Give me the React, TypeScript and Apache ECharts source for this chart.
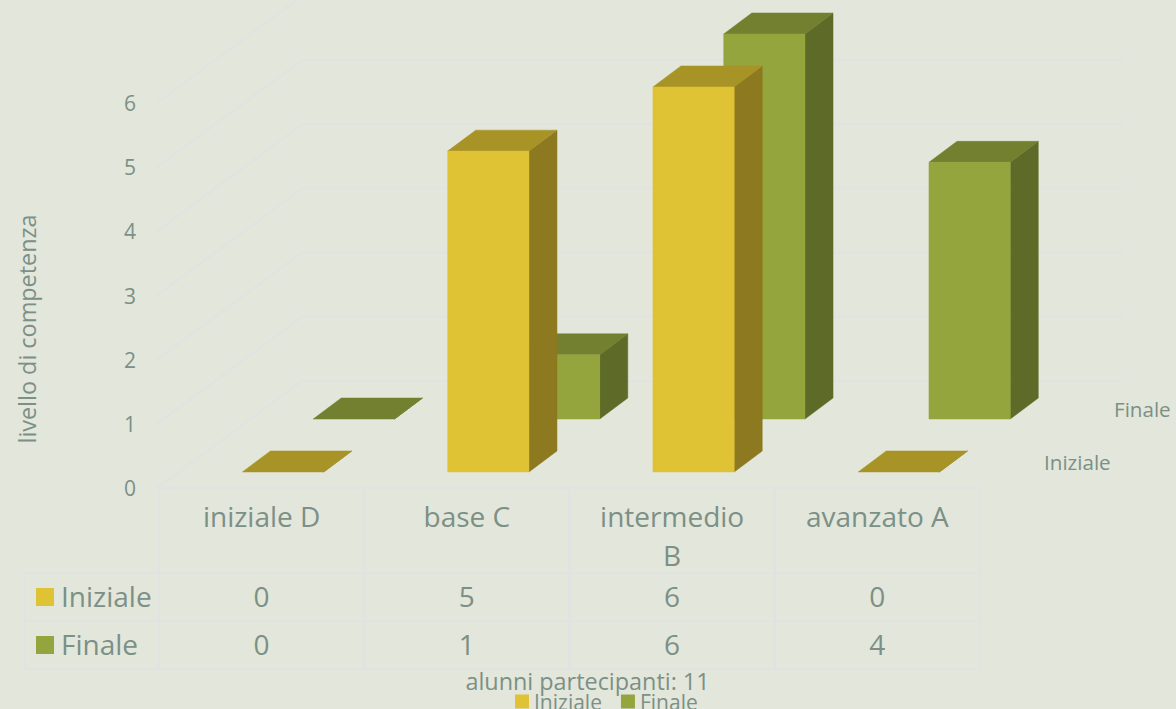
import React, { useEffect, useRef } from "react";
import * as echarts from "echarts";

const categories = ["iniziale D", "base C", "intermedio B", "avanzato A"];
const inizialeValues = [0, 5, 6, 0];
const finaleValues = [0, 1, 6, 4];
const yTicks = [0, 1, 2, 3, 4, 5, 6];

const BG = "#E3E6DA";
const TEXT = "#7B9087";
const LINE = "#DFE3E1";
const FONT = "'Open Sans', sans-serif";
const YELLOW = { front: "#DFC334", top: "#A89327", side: "#8C7920" };
const GREEN = { front: "#95A53D", top: "#72802F", side: "#5E6A27" };

// oblique projection of the chart's depth axis, in pixels
const DEPTH_X = 143;
const DEPTH_Y = 107;
const BAR_DEPTH = 0.196;

function barRenderer(colors: typeof YELLOW, depth: number) {
  return (_p: any, api: any) => {
    const [cx, vy] = api.coord([api.value(0), api.value(1)]);
    const [, by] = api.coord([api.value(0), 0]);
    const band = api.size([1, 0])[0];
    const w = band * 0.396;
    const x0 = cx - w / 2 + depth * DEPTH_X;
    const x1 = x0 + w;
    const top = vy - depth * DEPTH_Y;
    const base = by - depth * DEPTH_Y;
    const dx = BAR_DEPTH * DEPTH_X;
    const dy = BAR_DEPTH * DEPTH_Y;
    const poly = (points: number[][], fill: string) => ({
      type: "polygon",
      shape: { points },
      style: { fill, stroke: fill, lineWidth: 0.5 },
    });
    return {
      type: "group",
      children: [
        poly([[x1, base], [x1 + dx, base - dy], [x1 + dx, top - dy], [x1, top]], colors.side),
        poly([[x0, top], [x1, top], [x1 + dx, top - dy], [x0 + dx, top - dy]], colors.top),
        ...(base - top > 0.5
          ? [poly([[x0, top], [x1, top], [x1, base], [x0, base]], colors.front)]
          : []),
      ],
    };
  };
}

function wallRenderer(_p: any, api: any) {
  const [cx, y] = api.coord([0, api.value(0)]);
  const band = api.size([1, 0])[0];
  const left = cx - band / 2;
  return {
    type: "polyline",
    shape: {
      points: [
        [left - 2, y],
        [left + DEPTH_X, y - DEPTH_Y],
        [left + band * categories.length + DEPTH_X, y - DEPTH_Y],
      ],
    },
    style: { stroke: LINE, lineWidth: 2, fill: "none" },
  };
}

const ROW_TOP = 573;
const ROW_1 = 621;
const ROW_2 = 669;

function tableRenderer(_p: any, api: any) {
  const i = api.value(0);
  const [cx, y0] = api.coord([i, 0]);
  const band = api.size([1, 0])[0];
  const line = (x1: number, y1: number, x2: number, y2: number) => ({
    type: "line",
    shape: { x1, y1, x2, y2 },
    style: { stroke: LINE, lineWidth: 2 },
  });
  const txt = (text: number, y: number) => ({
    type: "text",
    style: {
      text: String(text),
      x: cx,
      y,
      align: "center",
      verticalAlign: "middle",
      fill: TEXT,
      fontSize: 28,
      fontFamily: FONT,
    },
  });
  const l = cx - band / 2;
  const r = cx + band / 2;
  return {
    type: "group",
    children: [
      line(l, y0, r, y0),
      line(l, ROW_TOP, r, ROW_TOP),
      line(l, ROW_1, r, ROW_1),
      line(l, ROW_2, r, ROW_2),
      line(l, y0, l, ROW_2),
      line(r, y0, r, ROW_2),
      txt(inizialeValues[i], 596),
      txt(finaleValues[i], 644),
    ],
  };
}

export default function App() {
  const ref = useRef<HTMLDivElement>(null);
  useEffect(() => {
    const chart = echarts.init(ref.current!, null, { renderer: "svg" });
    const labelStyle = { fill: TEXT, fontFamily: FONT };
    chart.setOption({
      animation: false,
      backgroundColor: BG,
      textStyle: { fontFamily: FONT, color: TEXT },
      title: {
        text: "alunni partecipanti: 11",
        left: 582.5,
        top: 664,
        textAlign: "center",
        textStyle: { color: TEXT, fontSize: 23.4, fontWeight: "normal", fontFamily: FONT },
      },
      legend: {
        data: ["Iniziale", "Finale"],
        left: 510,
        top: 686,
        itemWidth: 14,
        itemHeight: 14,
        itemGap: 19,
        icon: "rect",
        textStyle: { color: TEXT, fontSize: 21, fontFamily: FONT },
      },
      grid: { left: 159, right: 196, top: 103, bottom: 221 },
      xAxis: {
        type: "category",
        data: categories,
        axisLine: { show: false },
        axisTick: { show: false },
        splitLine: { show: false },
        axisLabel: {
          color: TEXT,
          fontSize: 28,
          fontFamily: FONT,
          lineHeight: 39,
          margin: 8,
          interval: 0,
          formatter: (v: string) => v.replace(" B", "\nB"),
        },
      },
      yAxis: {
        type: "value",
        min: 0,
        max: 6,
        interval: 1,
        axisLine: { show: false },
        axisTick: { show: false },
        splitLine: { show: false },
        axisLabel: { color: TEXT, fontSize: 21, fontFamily: FONT, margin: 23 },
      },
      graphic: [
        {
          type: "text",
          x: 27,
          y: 329,
          rotation: Math.PI / 2,
          style: {
            ...labelStyle,
            text: "livello di competenza",
            fontSize: 23.4,
            align: "center",
            verticalAlign: "middle",
          },
        },
        {
          type: "text",
          x: 1114,
          y: 409,
          style: { ...labelStyle, text: "Finale", fontSize: 20.6, verticalAlign: "middle" },
        },
        {
          type: "text",
          x: 1044,
          y: 462,
          style: { ...labelStyle, text: "Iniziale", fontSize: 20.6, verticalAlign: "middle" },
        },
        { type: "line", shape: { x1: 25, y1: ROW_TOP, x2: 159, y2: ROW_TOP }, style: { stroke: LINE, lineWidth: 2 } },
        { type: "line", shape: { x1: 25, y1: ROW_1, x2: 159, y2: ROW_1 }, style: { stroke: LINE, lineWidth: 2 } },
        { type: "line", shape: { x1: 25, y1: ROW_2, x2: 159, y2: ROW_2 }, style: { stroke: LINE, lineWidth: 2 } },
        { type: "line", shape: { x1: 25, y1: ROW_TOP, x2: 25, y2: ROW_2 }, style: { stroke: LINE, lineWidth: 2 } },
        { type: "rect", shape: { x: 36, y: 588, width: 18, height: 18 }, style: { fill: YELLOW.front } },
        { type: "rect", shape: { x: 36, y: 636, width: 18, height: 18 }, style: { fill: GREEN.front } },
        {
          type: "text",
          x: 61,
          y: 596,
          style: { ...labelStyle, text: "Iniziale", fontSize: 28, verticalAlign: "middle" },
        },
        {
          type: "text",
          x: 61,
          y: 644,
          style: { ...labelStyle, text: "Finale", fontSize: 28, verticalAlign: "middle" },
        },
      ],
      series: [
        {
          type: "custom",
          name: "walls",
          silent: true,
          data: yTicks.map((v) => [v]),
          encode: { y: 0 },
          renderItem: wallRenderer,
          z: 1,
        },
        {
          type: "custom",
          name: "table",
          silent: true,
          data: categories.map((_, i) => [i]),
          encode: { x: 0 },
          renderItem: tableRenderer,
          z: 1,
        },
        {
          type: "custom",
          name: "Finale",
          itemStyle: { color: GREEN.front },
          data: finaleValues.map((v, i) => [i, v]),
          encode: { x: 0, y: 1 },
          renderItem: barRenderer(GREEN, 0.645),
          z: 2,
        },
        {
          type: "custom",
          name: "Iniziale",
          itemStyle: { color: YELLOW.front },
          data: inizialeValues.map((v, i) => [i, v]),
          encode: { x: 0, y: 1 },
          renderItem: barRenderer(YELLOW, 0.15),
          z: 3,
        },
      ],
    });
    return () => chart.dispose();
  }, []);
  return (
    <div
      ref={ref}
      style={{ position: "absolute", left: 0, top: 0, width: 1176, height: 709 }}
    />
  );
}
